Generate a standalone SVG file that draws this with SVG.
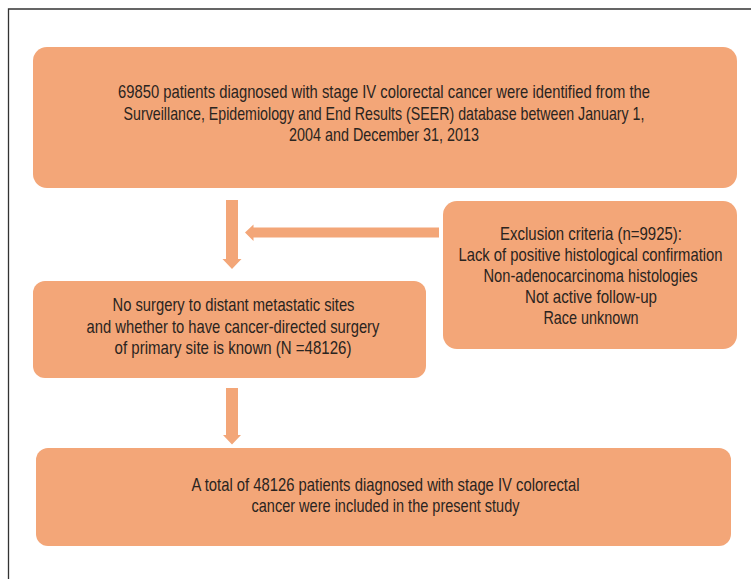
<svg xmlns="http://www.w3.org/2000/svg" width="751" height="579" viewBox="0 0 751 579">
<style>
.box{fill:#F3A678;}
.t{font-family:"Liberation Sans",Arial,sans-serif;font-size:18px;fill:#2A2420;text-anchor:middle;}
.frame{stroke:#333;stroke-width:1.3;fill:none;}
.arr{fill:#F3A678;}
</style>
<rect width="751" height="579" fill="#fff"/>
<path class="frame" d="M8.5 579 V9 H751"/>
<g id="node-source">
<rect class="box" x="33" y="47" width="704" height="141" rx="14"/>
<text class="t" transform="matrix(0.8 0 0 1 384 98)" x="0" y="0" textLength="665" lengthAdjust="spacingAndGlyphs">69850 patients diagnosed with stage IV colorectal cancer were identified from the</text>
<text class="t" transform="matrix(0.8 0 0 1 384 119.5)" x="0" y="0" textLength="651" lengthAdjust="spacingAndGlyphs">Surveillance, Epidemiology and End Results (SEER) database between January 1,</text>
<text class="t" transform="matrix(0.8 0 0 1 384 141)" x="0" y="0" textLength="237.5" lengthAdjust="spacingAndGlyphs">2004 and December 31, 2013</text>
</g>
<g id="node-exclusion">
<rect class="box" x="443" y="201" width="294" height="148" rx="14"/>
<text class="t" transform="matrix(0.8 0 0 1 591 239.5)" x="0" y="0" textLength="227.5" lengthAdjust="spacingAndGlyphs">Exclusion criteria (n=9925):</text>
<text class="t" transform="matrix(0.8 0 0 1 590.5 260.5)" x="0" y="0" textLength="330" lengthAdjust="spacingAndGlyphs">Lack of positive histological confirmation</text>
<text class="t" transform="matrix(0.8 0 0 1 590.5 281.5)" x="0" y="0" textLength="267.5" lengthAdjust="spacingAndGlyphs">Non-adenocarcinoma histologies</text>
<text class="t" transform="matrix(0.8 0 0 1 591 302.5)" x="0" y="0" textLength="165" lengthAdjust="spacingAndGlyphs">Not active follow-up</text>
<text class="t" transform="matrix(0.8 0 0 1 591 323.5)" x="0" y="0" textLength="119" lengthAdjust="spacingAndGlyphs">Race unknown</text>
</g>
<g id="node-eligible">
<rect class="box" x="33" y="281" width="393" height="97" rx="12"/>
<text class="t" transform="matrix(0.8 0 0 1 233.5 310.5)" x="0" y="0" textLength="302.5" lengthAdjust="spacingAndGlyphs">No surgery to distant metastatic sites</text>
<text class="t" transform="matrix(0.8 0 0 1 233 332.5)" x="0" y="0" textLength="366" lengthAdjust="spacingAndGlyphs">and whether to have cancer-directed surgery</text>
<text class="t" transform="matrix(0.8 0 0 1 233 354)" x="0" y="0" textLength="296" lengthAdjust="spacingAndGlyphs">of primary site is known (N =48126)</text>
</g>
<g id="node-final">
<rect class="box" x="36" y="448" width="695" height="98" rx="12"/>
<text class="t" transform="matrix(0.8 0 0 1 385.5 491)" x="0" y="0" textLength="485" lengthAdjust="spacingAndGlyphs">A total of 48126 patients diagnosed with stage IV colorectal</text>
<text class="t" transform="matrix(0.8 0 0 1 385.5 511.5)" x="0" y="0" textLength="335" lengthAdjust="spacingAndGlyphs">cancer were included in the present study</text>
</g>
<g id="connectors">
<polygon class="arr" points="226,200 238,200 238,259 241.5,259 232,269 222.5,259 226,259"/>
<polygon class="arr" points="439,227.5 439,237.5 253.5,237.5 253.5,241 245,232.5 253.5,224.5 253.5,227.5"/>
<polygon class="arr" points="226,388 238,388 238,435 241,435 232,444.5 223,435 226,435"/>
</g>
</svg>
